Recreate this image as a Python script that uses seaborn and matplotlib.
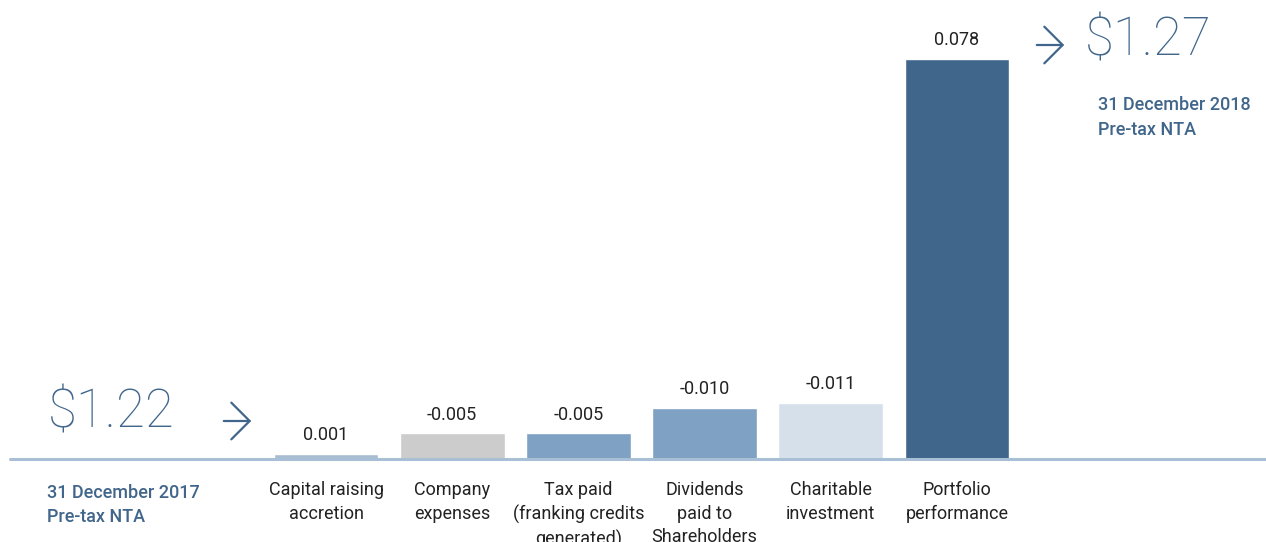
import matplotlib
matplotlib.use("Agg")
import matplotlib.pyplot as plt
import seaborn as sns
import pandas as pd

categories = ["Capital raising\naccretion", "Company\nexpenses", "Tax paid\n(franking credits\ngenerated)",
              "Dividends\npaid to\nShareholders", "Charitable\ninvestment", "Portfolio\nperformance"]
values = [0.001, -0.005, -0.005, -0.010, -0.011, 0.078]
value_labels = ["0.001", "-0.005", "-0.005", "-0.010", "-0.011", "0.078"]
colors = ["#a9bdd2", "#cccccc", "#7fa1c4", "#7fa1c4", "#d6e0eb", "#41668b"]
start_value = "$1.22"
end_value = "$1.27"
start_label = "31 December 2017\nPre-tax NTA"
end_label = "31 December 2018\nPre-tax NTA"

sns.set_theme(style="white")
plt.rcParams['font.family'] = ['Roboto', 'DejaVu Sans']

W, H = 1266, 542
fig = plt.figure(figsize=(W / 100, H / 100), dpi=100)
ax = fig.add_axes([0, 0, 1, 1])

df = pd.DataFrame({"cat": categories, "height": [abs(v) for v in values]})
sns.barplot(data=df, x="cat", y="height", hue="cat", palette=colors, width=0.83,
            legend=False, ax=ax, saturation=1)

spacing = 126.2
xmin = -326 / spacing
ax.set_xlim(xmin, xmin + W / spacing)
ppu = 400 / 0.078
ax.set_ylim(-83 / ppu, (H - 83) / ppu)
ax.axis("off")

ax.axhline(0, xmin=10 / W, xmax=1, color="#a9bfd6", lw=2.2, zorder=5)

blue = "#41668b"
for i, (v, lab) in enumerate(zip(values, value_labels)):
    ax.annotate(lab, (i, abs(v)), xytext=(0, 7), textcoords="offset points",
                ha="center", va="bottom", fontsize=13, fontweight="normal", color="#222222")
    ax.annotate(categories[i], (i, 0), xytext=(0, -16), textcoords="offset points",
                ha="center", va="top", fontsize=13, fontweight="normal", color="#222222",
                linespacing=1.4)

def fx(x):
    return x / W

def fy(y):
    return 1 - y / H

fig.text(fx(48), fy(413), start_value, fontsize=38, fontweight="light", color=blue,
         ha="left", va="center")
fig.text(fx(1085), fy(41), end_value, fontsize=38, fontweight="light", color=blue,
         ha="left", va="center")
fig.text(fx(47), fy(505), start_label, fontsize=13, fontweight="medium", color=blue,
         ha="left", va="center", linespacing=1.5)
fig.text(fx(1098), fy(118), end_label, fontsize=13, fontweight="medium", color=blue,
         ha="left", va="center", linespacing=1.5)

for x0, x1, y in [(221, 254, 421), (1034, 1067, 45)]:
    fig.add_artist(matplotlib.patches.FancyArrowPatch(
        (fx(x0), fy(y)), (fx(x1), fy(y)), transform=fig.transFigure,
        arrowstyle="->,head_length=6,head_width=6", color=blue, lw=1.6,
        mutation_scale=2.2))

fig.savefig("out.png", dpi=100, facecolor="white")
